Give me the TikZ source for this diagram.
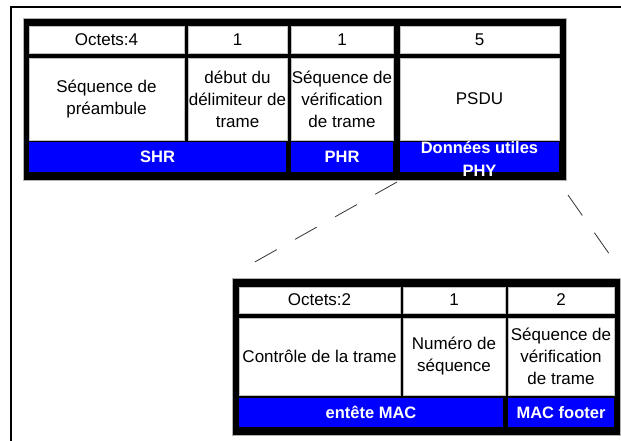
\documentclass[tikz,border=0pt]{standalone}
\usepackage{fontspec}
\setmainfont{Liberation Sans}
\definecolor{barblue}{RGB}{0,0,255}
\tikzset{
  blackbox/.style={fill=black, draw=gray!60, line width=0.6pt, inner sep=0pt},
  cell/.style={fill=white, draw=gray!50, line width=0.6pt, inner sep=0pt, align=center,
    font=\fontsize{17}{22}\selectfont},
  bar/.style={fill=barblue, inner sep=0pt, align=center, text=white,
    font=\fontsize{16.5}{23}\selectfont\bfseries},
  zoomline/.style={draw=black!80, line width=0.8pt, dash pattern=on 25pt off 21pt}
}
\begin{document}
\begin{tikzpicture}[x=1pt,y=-1pt]
    \useasboundingbox (0,0) rectangle (621,441);

    % Page frame
    \draw[line width=2pt] (11,441) -- (11,7) -- (621,7);

    % PHY frame
    \node[blackbox, minimum width=543pt, minimum height=162pt] (phy) at (294.5,99) {};
    \node[cell, minimum width=155pt, minimum height=27pt] (phyoct1) at (106.5,39.5) {Octets:4};
    \node[cell, minimum width=99pt, minimum height=27pt] (phyoct2) at (237.5,39.5) {1};
    \node[cell, minimum width=102pt, minimum height=27pt] (phyoct3) at (342,39.5) {1};
    \node[cell, minimum width=159pt, minimum height=27pt] (phyoct4) at (479.5,39.5) {5};
    \node[cell, minimum width=155pt, minimum height=82pt] (preamb) at (106.5,99) {Séquence de\\préambule};
    \node[cell, minimum width=99pt, minimum height=82pt] (sfd) at (237.5,99) {début du\\délimiteur de\\trame};
    \node[cell, minimum width=102pt, minimum height=82pt] (phyfcs) at (342,99) {Séquence de\\vérification\\de trame};
    \node[cell, minimum width=159pt, minimum height=82pt] (psdu) at (479.5,99) {PSDU};
    \node[bar, minimum width=257pt, minimum height=30pt] (shr) at (157.5,157) {SHR};
    \node[bar, minimum width=102pt, minimum height=30pt] (phr) at (342,157) {PHR};
    \node[bar, minimum width=159pt, minimum height=30pt] (payload) at (479.5,157) {};
    \node[bar, fill=none] (payloadtxt) at (479.5,158.5) {Données utiles\\PHY};

    % MAC frame
    \node[blackbox, minimum width=388pt, minimum height=157pt] (mac) at (426,356.5) {};
    \node[cell, minimum width=161pt, minimum height=26pt] (macoct1) at (319.5,300) {Octets:2};
    \node[cell, minimum width=102pt, minimum height=26pt] (macoct2) at (454,300) {1};
    \node[cell, minimum width=106pt, minimum height=26pt] (macoct3) at (561,300) {2};
    \node[cell, minimum width=161pt, minimum height=77pt] (fctrl) at (319.5,356.5) {Contrôle de la trame};
    \node[cell, minimum width=102pt, minimum height=77pt] (seqnum) at (454,356.5) {Numéro de\\séquence};
    \node[cell, minimum width=106pt, minimum height=77pt] (macfcs) at (561,356.5) {Séquence de\\vérification\\de trame};
    \node[bar, minimum width=264pt, minimum height=29pt] (mhr) at (371,412.5) {entête MAC};
    \node[bar, minimum width=106pt, minimum height=29pt] (mfr) at (561,412.5) {MAC footer};

    % Zoom lines
    \coordinate (zl1) at (397,182);
    \coordinate (zl2) at (253,263);
    \coordinate (zr1) at (568,195);
    \coordinate (zr2) at (610,255);
    \draw[zoomline] (zl1) -- (zl2);
    \draw[zoomline] (zr1) -- (zr2);
\end{tikzpicture}
\end{document}
